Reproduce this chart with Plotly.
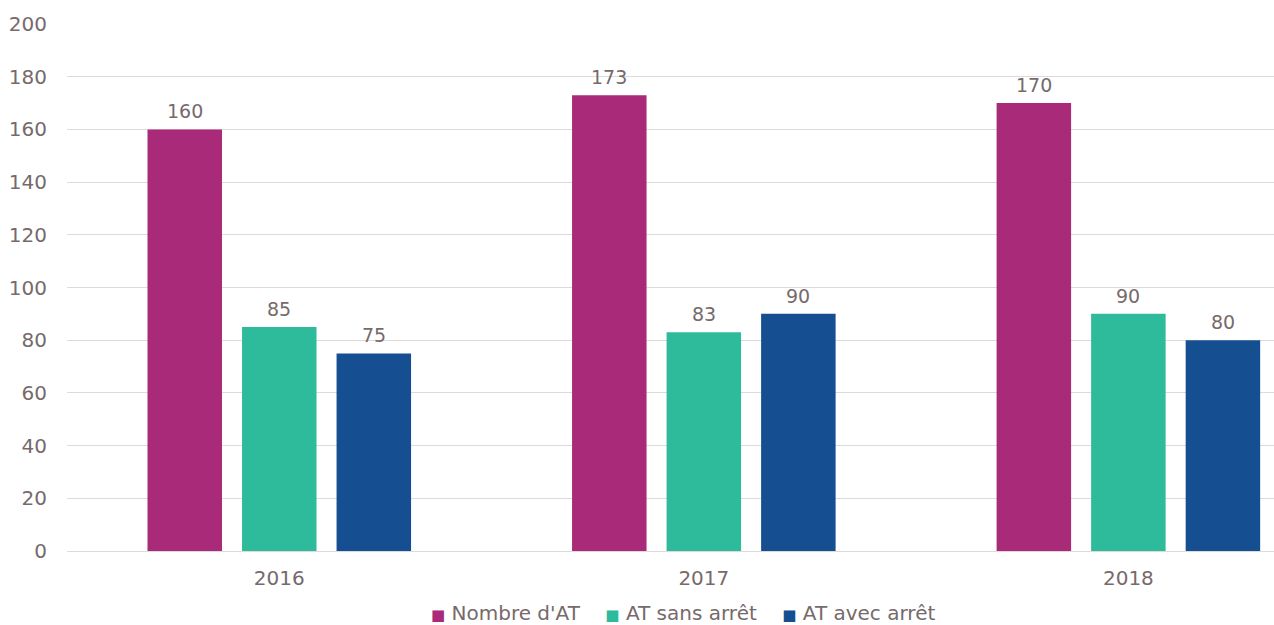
import plotly.graph_objects as go

# Accidents du travail par année
years = ["2016", "2017", "2018"]
nombre_at = [160, 173, 170]
at_sans_arret = [85, 83, 90]
at_avec_arret = [75, 90, 80]

series = [
    ("Nombre d'AT", nombre_at, "#A82A78"),
    ("AT sans arrêt", at_sans_arret, "#2EBB9C"),
    ("AT avec arrêt", at_avec_arret, "#154F92"),
]

text_color = "#766A6A"
font_family = "DejaVu Sans"
slot_px = 94.5  # horizontal distance between bar centres within a group

fig = go.Figure()
for i, (name, values, color) in enumerate(series):
    fig.add_trace(go.Bar(
        x=years,
        y=values,
        name=name,
        marker=dict(color=color, line=dict(width=0)),
        showlegend=False,
    ))
    # value labels above each bar (x given as category index)
    for j, v in enumerate(values):
        fig.add_annotation(
            x=j, y=v, xref="x", yref="y", text=str(v),
            showarrow=False,
            xanchor="center", yanchor="bottom",
            xshift=(i - 1) * slot_px, yshift=5,
            font=dict(size=19, color=text_color, family=font_family),
        )

# legend line: coloured squares followed by series names
gap = "\u00a0" * 4
legend_text = gap.join(
    f'<span style="color:{color};font-size:15px">■</span>\u00a0{name}'
    for name, _, color in series
)
fig.add_annotation(
    x=0.5, y=0, xref="paper", yref="paper",
    text=legend_text, showarrow=False,
    xanchor="center", yanchor="middle",
    font=dict(size=20, color=text_color, family=font_family),
)

fig.update_layout(
    width=1274,
    height=625,
    margin=dict(l=67, r=0, t=24, b=74, autoexpand=False),
    paper_bgcolor="white",
    plot_bgcolor="white",
    barmode="group",
    bargap=0.332,
    bargroupgap=0.212,
    font=dict(family=font_family, color=text_color, size=20),
    showlegend=False,
    xaxis=dict(
        type="category",
        range=[-0.5, 2.343],
        showgrid=False,
        showline=False,
        ticks="",
        tickfont=dict(size=20, color=text_color),
        ticklabelstandoff=13,
    ),
    yaxis=dict(
        range=[0, 200],
        dtick=20,
        showgrid=True,
        gridcolor="#DFD9D9",
        gridwidth=1,
        zeroline=True,
        zerolinecolor="#DFD9D9",
        zerolinewidth=1,
        showline=False,
        ticks="",
        tickfont=dict(size=20, color=text_color),
        ticklabelstandoff=19,
    ),
)

# place the legend annotation in paper fractions from pixel targets
plot_w = 1274 - 67
plot_h = 625 - 24 - 74
ann = fig.layout.annotations[-1]
ann.x = (683 - 67) / plot_w
ann.y = -(613 - 551) / plot_h

fig.write_html("out.html")
